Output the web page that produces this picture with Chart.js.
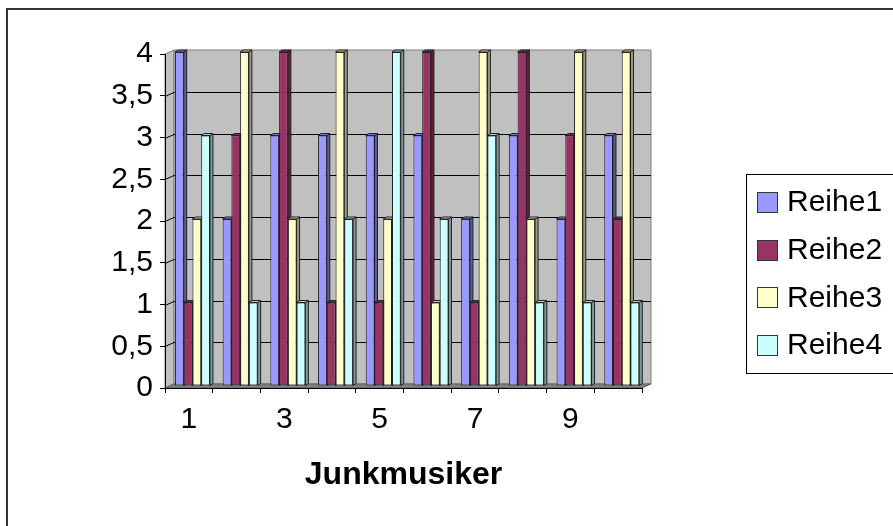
<!DOCTYPE html>
<html>
<head>
<meta charset="utf-8">
<script src="https://cdn.jsdelivr.net/npm/chart.js@4.4.0/dist/chart.umd.min.js"></script>
<style>
  html, body { margin: 0; padding: 0; background: #fff; }
  #chart { display: block; }
</style>
</head>
<body>
<canvas id="chart" width="893" height="526"></canvas>
<script>
// data
const categories = ["1", "2", "3", "4", "5", "6", "7", "8", "9", "10"];
const seriesNames = ["Reihe1", "Reihe2", "Reihe3", "Reihe4"];
const reihe1 = [4, 2, 3, 3, 3, 3, 2, 3, 2, 3];
const reihe2 = [1, 3, 4, 1, 1, 4, 1, 4, 3, 2];
const reihe3 = [2, 4, 2, 4, 2, 1, 4, 2, 4, 4];
const reihe4 = [3, 1, 1, 2, 4, 2, 3, 1, 1, 1];
const yMin = 0, yMax = 4, yStep = 0.5;
const xTitle = "Junkmusiker";

const colors = ["#9999FF", "#993366", "#FFFFCC", "#CCFFFF"];
const FONT = "'Liberation Sans', Arial, sans-serif";

// fake 3d offsets (excel style)
const WALL = { dx: 9, dy: -4 };
const BAR = { dx: 3, dy: -2 };
const SHIFT = { dx: 3.6, dy: -2 };

function shade(hex, f) {
    const n = parseInt(hex.slice(1), 16);
    const r = Math.round(((n >> 16) & 255) * f);
    const g = Math.round(((n >> 8) & 255) * f);
    const b = Math.round((n & 255) * f);
    return "rgb(" + Math.min(r, 255) + "," + Math.min(g, 255) + "," + Math.min(b, 255) + ")";
}

function poly(ctx, pts, fill, stroke) {
    ctx.beginPath();
    ctx.moveTo(pts[0][0], pts[0][1]);
    for (let i = 1; i < pts.length; i++) ctx.lineTo(pts[i][0], pts[i][1]);
    ctx.closePath();
    if (fill) { ctx.fillStyle = fill; ctx.fill(); }
    if (stroke) { ctx.strokeStyle = stroke; ctx.stroke(); }
}

const excel3d = {
    id: "excel3d",
    beforeDraw(chart) {
        const { ctx, chartArea: a, scales } = chart;
        const L = a.left, R = a.right, T = a.top, B = a.bottom;
        ctx.save();
        ctx.lineWidth = 1;
        // side wall, back wall, floor
        poly(ctx, [[L, T], [L + WALL.dx, T + WALL.dy], [L + WALL.dx, B + WALL.dy], [L, B]], "#C0C0C0", "#808080");
        poly(ctx, [[L + WALL.dx, T + WALL.dy], [R + WALL.dx, T + WALL.dy], [R + WALL.dx, B + WALL.dy], [L + WALL.dx, B + WALL.dy]], "#C0C0C0", "#808080");
        poly(ctx, [[L, B], [L + WALL.dx, B + WALL.dy], [R + WALL.dx, B + WALL.dy], [R, B]], "#808080", "#606060");
        // grid lines on side and back wall
        ctx.strokeStyle = "#000";
        scales.y.ticks.forEach(t => {
            if (t.value <= yMin || t.value >= yMax) return;
            const py = Math.round(scales.y.getPixelForValue(t.value)) + 0.5;
            ctx.beginPath();
            ctx.moveTo(L, py);
            ctx.lineTo(L + WALL.dx, py + WALL.dy);
            ctx.lineTo(R + WALL.dx, py + WALL.dy);
            ctx.stroke();
        });
        ctx.restore();
    },
    beforeDatasetsDraw(chart) {
        const ctx = chart.ctx;
        ctx.save();
        ctx.translate(SHIFT.dx, SHIFT.dy);
        ctx.lineWidth = 1;
        // side and top faces, left to right; the library draws the fronts afterwards
        chart.data.datasets.forEach((ds, i) => {
            const meta = chart.getDatasetMeta(i);
            meta.data.forEach(bar => {
                const p = bar.getProps(["x", "y", "base", "width"], true);
                const l = p.x - p.width / 2, r = p.x + p.width / 2;
                poly(ctx, [[r, p.y], [r + BAR.dx, p.y + BAR.dy], [r + BAR.dx, p.base + BAR.dy], [r, p.base]], shade(ds.backgroundColor, 0.6), "#222");
                poly(ctx, [[l, p.y], [l + BAR.dx, p.y + BAR.dy], [r + BAR.dx, p.y + BAR.dy], [r, p.y]], shade(ds.backgroundColor, 0.8), "#222");
            });
        });
    },
    afterDatasetsDraw(chart) {
        chart.ctx.restore();
    },
    afterDraw(chart) {
        const ctx = chart.ctx;
        ctx.save();
        // legend box, its right edge runs off the picture
        const lx = 746, ly = 174, lw = 160, lh = 199;
        ctx.lineWidth = 1;
        ctx.strokeStyle = "#000";
        ctx.strokeRect(lx + 0.5, ly + 0.5, lw, lh);
        ctx.font = "30px " + FONT;
        ctx.textBaseline = "middle";
        ctx.textAlign = "left";
        chart.data.datasets.forEach((ds, i) => {
            const cy = 202 + i * 47.7;
            ctx.fillStyle = ds.backgroundColor;
            ctx.fillRect(757, Math.round(cy - 10), 21, 21);
            ctx.strokeStyle = "#333";
            ctx.strokeRect(757.5, Math.round(cy - 10) + 0.5, 20, 20);
            ctx.fillStyle = "#000";
            ctx.fillText(ds.label, 787, cy + 1);
        });
        // outer frame (cropped on the right and bottom)
        ctx.lineWidth = 2;
        ctx.strokeStyle = "#333";
        ctx.strokeRect(7, 9, 900, 530);
        ctx.restore();
    }
};

const seriesValues = [reihe1, reihe2, reihe3, reihe4];

new Chart(document.getElementById("chart"), {
    type: "bar",
    data: {
        labels: categories,
        datasets: seriesNames.map((name, i) => ({
            label: name,
            data: seriesValues[i],
            backgroundColor: colors[i],
            borderColor: "#222",
            borderWidth: 1,
            borderSkipped: false,
            categoryPercentage: 0.734,
            barPercentage: 1,
            clip: false
        }))
    },
    options: {
        responsive: false,
        animation: false,
        locale: "de-DE",
        layout: { padding: { left: 0, top: 54, right: 251, bottom: 0 } },
        plugins: {
            legend: { display: false },
            tooltip: { enabled: false }
        },
        scales: {
            x: {
                grid: { drawOnChartArea: false, drawTicks: true, tickLength: 5, color: "#000", offset: true },
                border: { display: true, color: "#000", width: 1 },
                ticks: {
                    autoSkip: false,
                    maxRotation: 0,
                    padding: 9,
                    color: "#000",
                    font: { family: FONT, size: 30 },
                    callback: function (v, i) { return i % 2 === 0 ? this.getLabelForValue(v) : ""; }
                },
                title: {
                    display: true,
                    text: xTitle,
                    color: "#000",
                    font: { family: FONT, size: 32, weight: "bold" },
                    padding: { top: 0, bottom: 32 }
                },
                afterFit(scale) { scale.height = 138; }
            },
            y: {
                min: yMin,
                max: yMax,
                grid: { drawOnChartArea: false, drawTicks: true, tickLength: 5, color: "#000" },
                border: { display: true, color: "#000", width: 1 },
                ticks: {
                    stepSize: yStep,
                    padding: 7,
                    color: "#000",
                    font: { family: FONT, size: 30 },
                    callback: v => v.toLocaleString("de-DE")
                },
                afterFit(scale) { scale.width = 165; }
            }
        }
    },
    plugins: [excel3d]
});
</script>
</body>
</html>
